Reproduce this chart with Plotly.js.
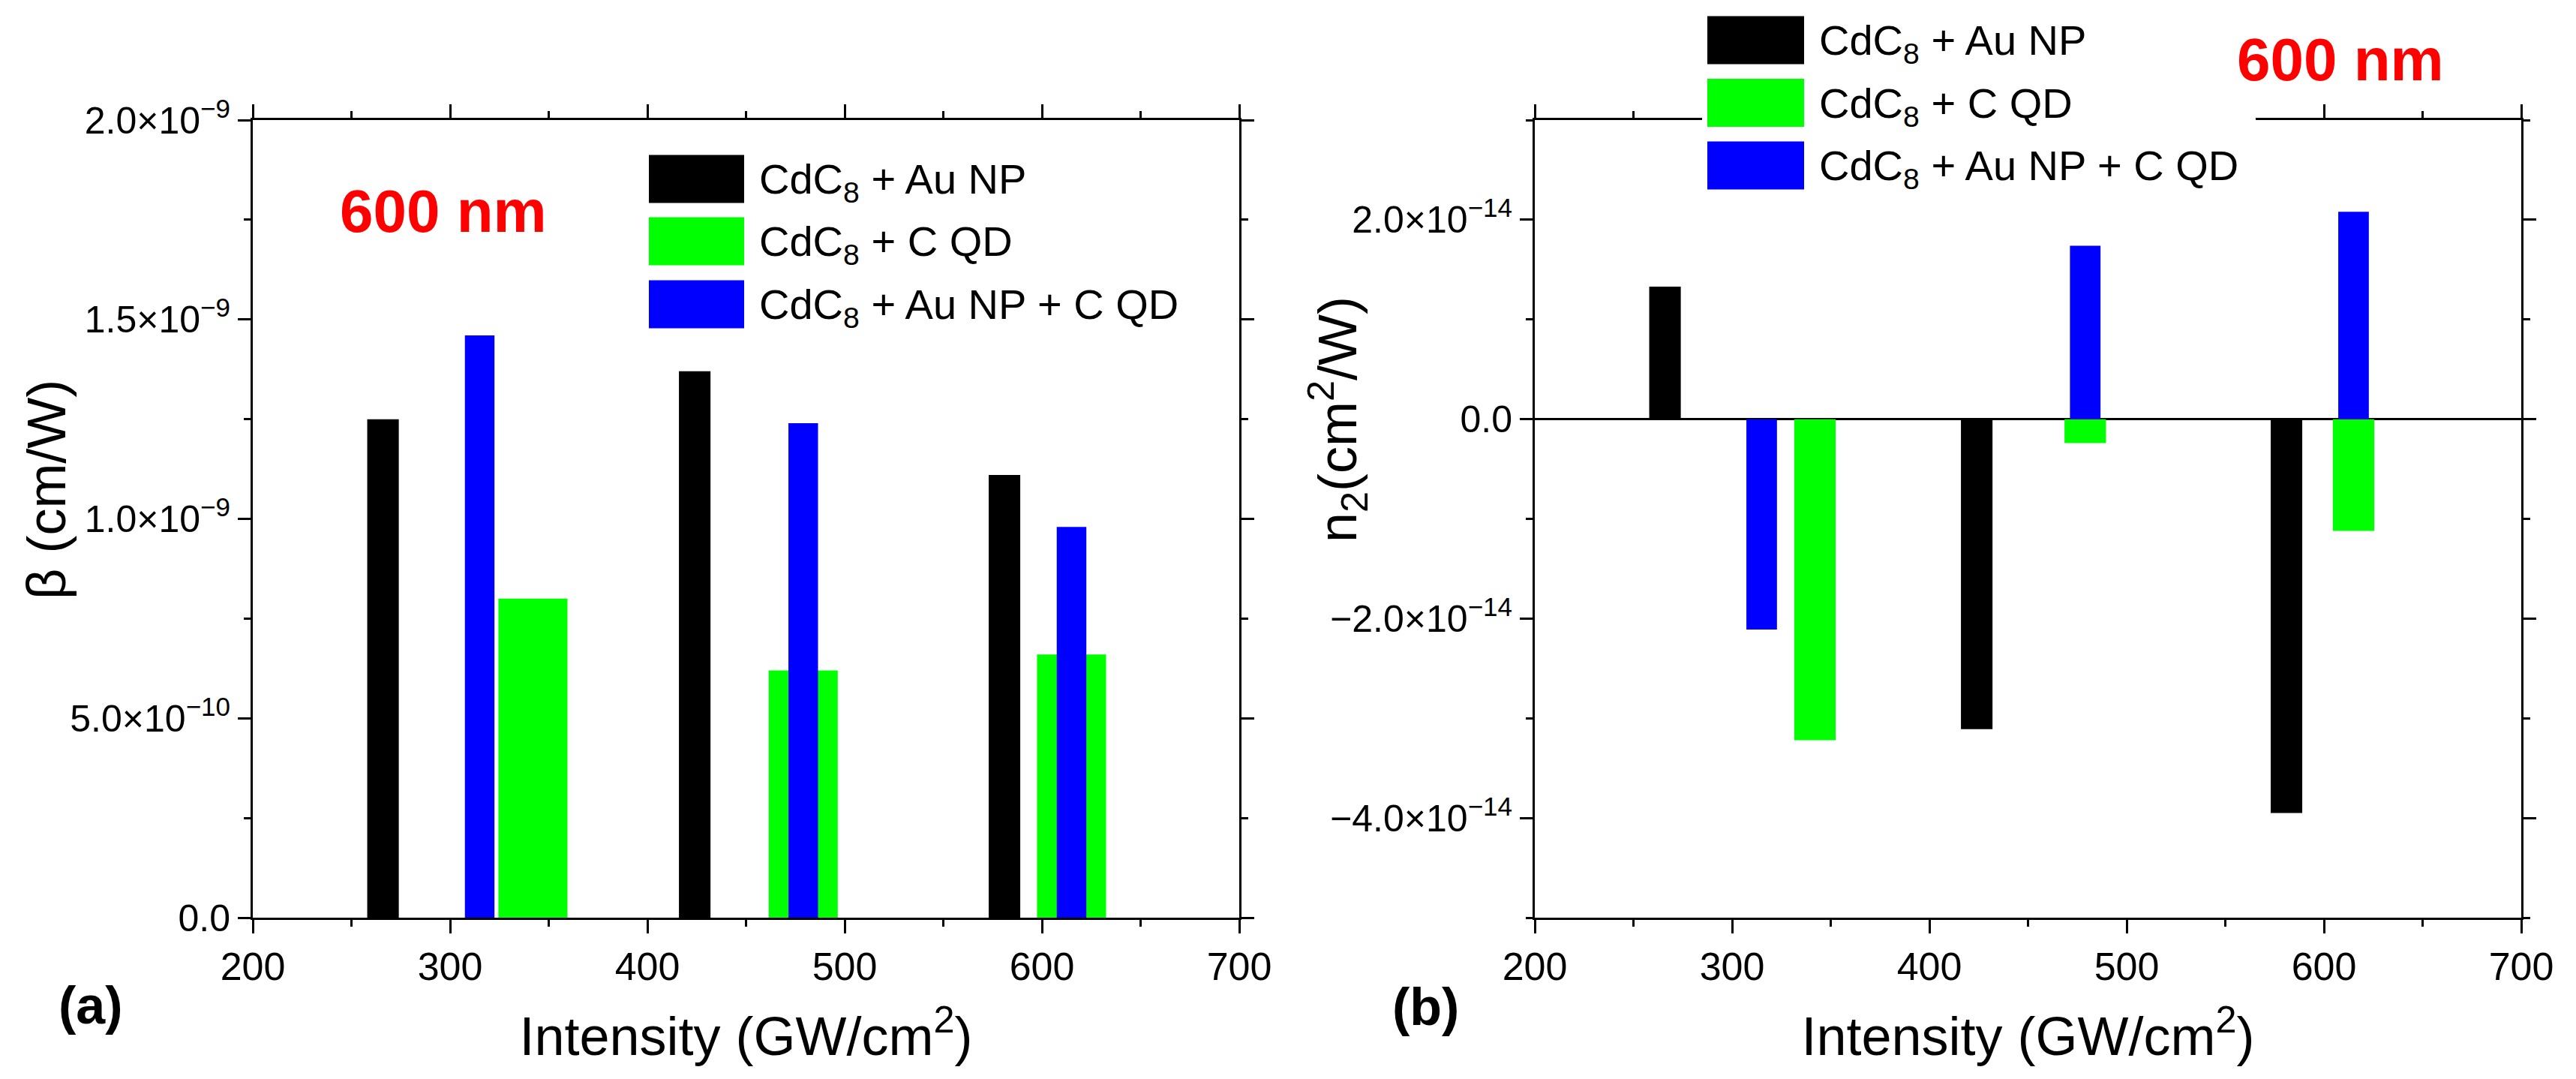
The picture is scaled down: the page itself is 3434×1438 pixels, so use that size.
<!DOCTYPE html>
<html>
<head>
<meta charset="utf-8">
<script src="https://cdn.plot.ly/plotly-3.0.1.min.js"></script>
<style>html,body{margin:0;padding:0;background:#fff;}#chart{width:3434px;height:1438px;}</style>
</head>
<body>
<div id="chart"></div>
<script>
// ---------- data ----------
const seriesNames = ['CdC<sub>8</sub> + Au NP', 'CdC<sub>8</sub> + C QD', 'CdC<sub>8</sub> + Au NP + C QD'];
const seriesColors = ['#000000', '#00FF00', '#0000FF'];

const intensityAuNP = [266, 424, 581];
const intensityCQD = [342, 479, 615];
const intensityAuNPCQD = [315, 479, 615];

const betaAuNP = [1.25e-9, 1.37e-9, 1.11e-9];
const betaCQD = [0.80e-9, 0.62e-9, 0.66e-9];
const betaAuNPCQD = [1.46e-9, 1.24e-9, 0.98e-9];

const n2AuNP = [1.33e-14, -3.11e-14, -3.95e-14];
const n2CQD = [-3.22e-14, -0.24e-14, -1.12e-14];
const n2AuNPCQD = [-2.11e-14, 1.74e-14, 2.08e-14];

const xTickVals = [200, 300, 400, 500, 600, 700];
const xTickText = ['200', '300', '400', '500', '600', '700'];
const betaTickVals = [0, 5e-10, 1e-9, 1.5e-9, 2e-9];
const betaTickText = ['0.0', '5.0×10<sup>−10</sup>', '1.0×10<sup>−9</sup>', '1.5×10<sup>−9</sup>', '2.0×10<sup>−9</sup>'];
const n2TickVals = [-4e-14, -2e-14, 0, 2e-14];
const n2TickText = ['−4.0×10<sup>−14</sup>', '−2.0×10<sup>−14</sup>', '0.0', '2.0×10<sup>−14</sup>'];

const wavelengthLabel = '600 nm';
const xTitle = 'Intensity (GW/cm<sup>2</sup>)';
const betaTitle = 'β (cm/W)';
const n2Title = 'n<sub>2</sub>(cm<sup>2</sup>/W)';

// ---------- traces ----------
const FONT = 'Liberation Sans, Arial, sans-serif';
function bar(x, y, color, width, xa, ya) {
  return {type: 'bar', x: x, y: y, width: width, xaxis: xa, yaxis: ya,
    marker: {color: color, line: {width: 0}, opacity: 1}, showlegend: false, hoverinfo: 'skip'};
}
const traces = [
  bar(intensityAuNP, betaAuNP, seriesColors[0], 16, 'x', 'y'),
  bar(intensityCQD, betaCQD, seriesColors[1], 35, 'x', 'y'),
  bar(intensityAuNPCQD, betaAuNPCQD, seriesColors[2], 15, 'x', 'y'),
  bar(intensityAuNP, n2AuNP, seriesColors[0], 16, 'x2', 'y2'),
  bar(intensityCQD, n2CQD, seriesColors[1], 21, 'x2', 'y2'),
  bar(intensityAuNPCQD, n2AuNPCQD, seriesColors[2], 15.5, 'x2', 'y2')
];

// ---------- layout ----------
const W = 3434, H = 1438;
const px = v => v / W, py = v => 1 - v / H;

function xAxis(domain, anchor) {
  return {domain: domain, anchor: anchor, range: [200, 700], tickmode: 'array',
    tickvals: xTickVals, ticktext: xTickText, ticks: 'outside', ticklen: 18, tickwidth: 3,
    tickcolor: '#000', showline: true, linewidth: 3, linecolor: '#000', mirror: 'ticks',
    showgrid: false, zeroline: false, fixedrange: true,
    tickfont: {family: FONT, size: 52, color: '#000'},
    minor: {tickmode: 'linear', tick0: 200, dtick: 50, ticks: 'outside', ticklen: 9, tickwidth: 3, tickcolor: '#000'},
    title: {text: xTitle, font: {family: FONT, size: 72, color: '#000'}, standoff: 40}};
}
function yAxis(domain, anchor, range, tv, tt, minorD, zl) {
  return {domain: domain, anchor: anchor, range: range, tickmode: 'array',
    tickvals: tv, ticktext: tt, ticks: 'outside', ticklen: 17, tickwidth: 3,
    tickcolor: '#000', showline: true, linewidth: 3, linecolor: '#000', mirror: 'ticks',
    showgrid: false, zeroline: zl, zerolinecolor: '#000', zerolinewidth: 3, fixedrange: true,
    tickfont: {family: FONT, size: 50, color: '#000'},
    minor: {tickmode: 'linear', tick0: 0, dtick: minorD, ticks: 'outside', ticklen: 9, tickwidth: 3, tickcolor: '#000'}};
}

const yDom = [py(1223), py(160)];
const layout = {
  width: W, height: H, margin: {l: 0, r: 0, t: 0, b: 0, pad: 0},
  paper_bgcolor: '#fff', plot_bgcolor: '#fff', barmode: 'overlay', showlegend: false,
  xaxis: xAxis([px(337), px(1652)], 'y'),
  yaxis: yAxis(yDom, 'x', [0, 2e-9], betaTickVals, betaTickText, 2.5e-10, false),
  xaxis2: xAxis([px(2046), px(3361)], 'y2'),
  yaxis2: yAxis(yDom, 'x2', [-5e-14, 3e-14], n2TickVals, n2TickText, 1e-14, true),
  shapes: [], annotations: []
};

// legends (large swatches drawn as shapes)
function addLegend(x0, x1, tops, textX, withBg) {
  if (withBg) {
    layout.shapes.push({type: 'rect', xref: 'paper', yref: 'paper', layer: 'above',
      x0: px(2269), x1: px(3007), y0: py(268), y1: py(8), fillcolor: '#fff', line: {width: 0}});
  }
  tops.forEach((t, i) => {
    layout.shapes.push({type: 'rect', xref: 'paper', yref: 'paper', layer: 'above',
      x0: px(x0), x1: px(x1), y0: py(t + 64), y1: py(t), fillcolor: seriesColors[i], line: {width: 0}});
    layout.annotations.push({xref: 'paper', yref: 'paper', x: px(textX), y: py(t + 36),
      xanchor: 'left', yanchor: 'middle', showarrow: false, text: seriesNames[i],
      font: {family: FONT, size: 56, color: '#000'}});
  });
}
addLegend(865, 992, [206.5, 289.5, 373.5], 1010, false);
addLegend(2276, 2405, [21.5, 105, 188.5], 2423, true);

// other texts
function note(x, y, text, size, color, bold, angle) {
  layout.annotations.push({xref: 'paper', yref: 'paper', x: px(x), y: py(y), xanchor: 'center', yanchor: 'middle',
    showarrow: false, text: bold ? '<b>' + text + '</b>' : text, textangle: angle || 0,
    font: {family: FONT, size: size, color: color}});
}
note(591, 282, wavelengthLabel, 80, '#FF0000', true);
note(3120, 80, wavelengthLabel, 80, '#FF0000', true);
note(121, 1340, '(a)', 70, '#000', true);
note(1900, 1342, '(b)', 70, '#000', true);
note(62, 653, betaTitle, 72, '#000', false, -90);
note(1783, 559, n2Title, 72, '#000', false, -90);

Plotly.newPlot('chart', traces, layout, {staticPlot: true, displayModeBar: false});
</script>
</body>
</html>
